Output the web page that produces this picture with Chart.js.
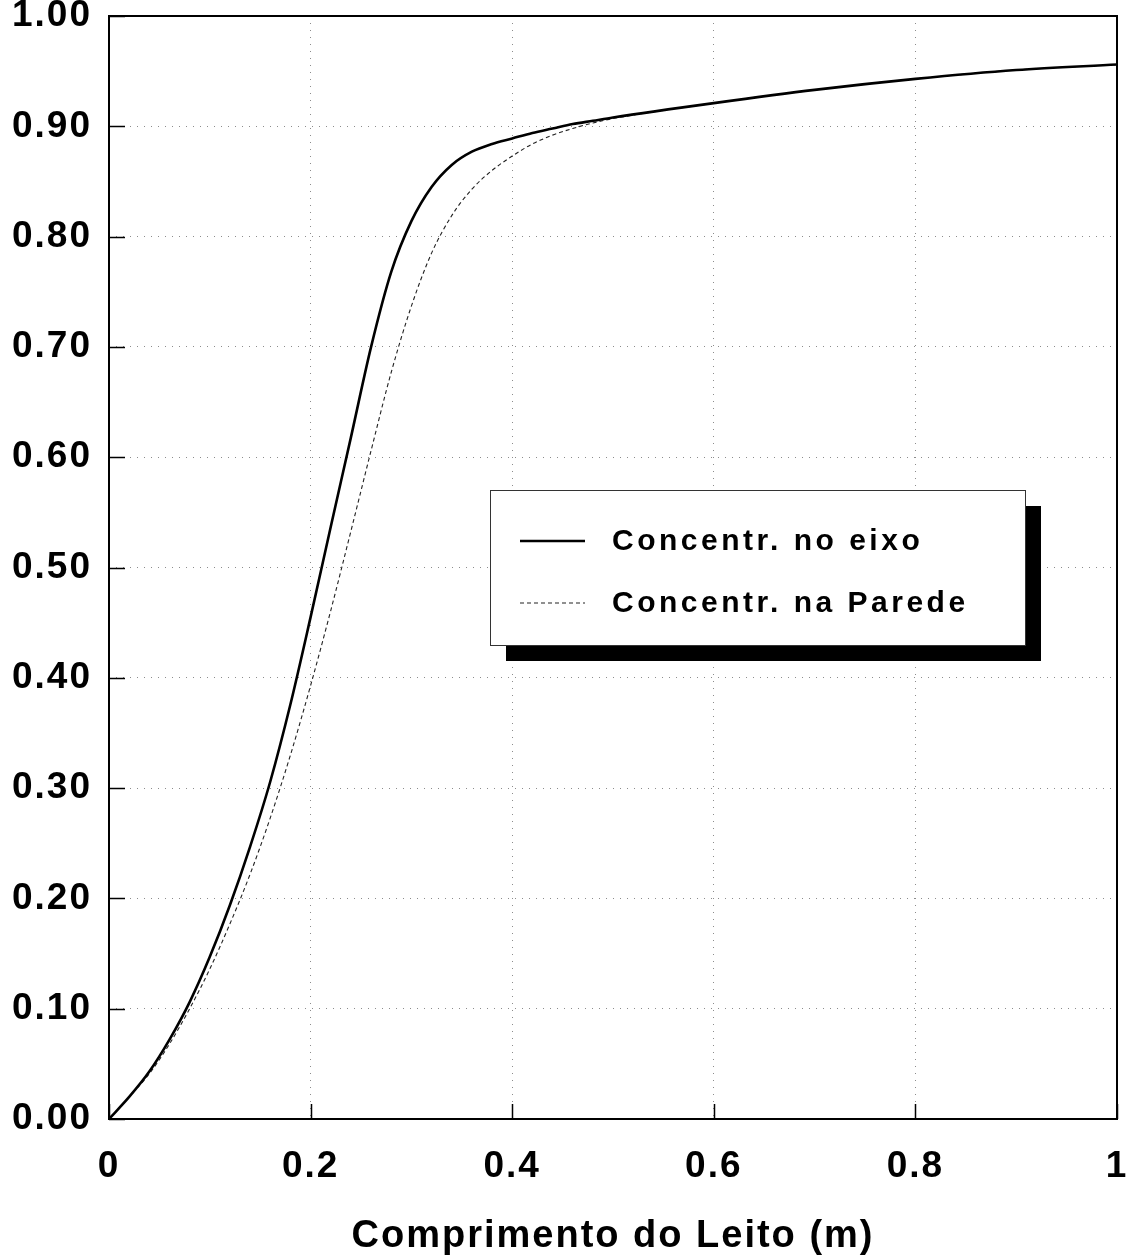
<!DOCTYPE html>
<html><head><meta charset="utf-8">
<script src="https://cdn.jsdelivr.net/npm/chart.js@4"></script>
<style>html,body{margin:0;padding:0;background:#fff}#wrap{width:1130px;height:1260px;position:relative}</style>
</head><body><div id="wrap"><canvas id="c" width="1130" height="1260"></canvas></div>
<script>
// ---- data ----
const xValues = [0, 0.02, 0.04, 0.06, 0.08, 0.10, 0.12, 0.14, 0.16, 0.18, 0.20, 0.22, 0.24, 0.26, 0.28, 0.30, 0.32, 0.34, 0.36, 0.38, 0.40, 0.42, 0.44, 0.46, 0.48, 0.50, 0.60, 0.70, 0.80, 0.90, 1.00];
const concEixo = [0, 0.020, 0.043, 0.072, 0.106, 0.147, 0.194, 0.247, 0.306, 0.376, 0.455, 0.537, 0.618, 0.700, 0.768, 0.814, 0.845, 0.865, 0.877, 0.884, 0.889, 0.894, 0.898, 0.902, 0.905, 0.908, 0.921, 0.933, 0.943, 0.951, 0.956];
const concParede = [0, 0.020, 0.041, 0.068, 0.100, 0.136, 0.177, 0.222, 0.273, 0.330, 0.393, 0.461, 0.533, 0.606, 0.677, 0.737, 0.785, 0.819, 0.843, 0.860, 0.873, 0.884, 0.892, 0.898, 0.903, 0.907, 0.921, 0.933, 0.943, 0.951, 0.956];
const seriesLabels = ['Concentr. no eixo', 'Concentr. na Parede'];
const xTickStep = 0.2;
const yTickStep = 0.1;
const xAxisTitle = 'Comprimento do Leito (m)';

const FONT = '"Liberation Sans", Arial, Helvetica, sans-serif';

const frameAndTicks = {
  id: 'frameAndTicks',
  beforeDraw(chart) { chart.ctx.letterSpacing = '2px'; },
  afterDatasetsDraw(chart) {
    const {ctx, chartArea: a, scales: {x, y}} = chart;
    ctx.save();
    ctx.letterSpacing = '0px';
    ctx.strokeStyle = '#000';
    ctx.setLineDash([]);
    // inward ticks
    ctx.lineWidth = 1.5;
    ctx.beginPath();
    y.ticks.forEach(t => {
      const py = Math.round(y.getPixelForValue(t.value)) + 0.5;
      ctx.moveTo(a.left, py); ctx.lineTo(a.left + 16, py);
    });
    x.ticks.forEach(t => {
      const px = Math.round(x.getPixelForValue(t.value)) + 0.5;
      ctx.moveTo(px, a.bottom); ctx.lineTo(px, a.bottom - 15);
    });
    ctx.stroke();
    // frame
    ctx.lineWidth = 2;
    ctx.strokeRect(a.left, a.top, a.right - a.left, a.bottom - a.top);
    ctx.restore();
  },
  afterDraw(chart) {
    const {ctx} = chart;
    const L = 490, T = 490, W = 535, H = 155, S = 16;
    ctx.save();
    ctx.fillStyle = '#000';
    ctx.fillRect(L + S, T + S, W, H);
    ctx.fillStyle = '#fff';
    ctx.fillRect(L, T, W, H);
    ctx.strokeStyle = '#333';
    ctx.lineWidth = 1;
    ctx.strokeRect(L + 0.5, T + 0.5, W, H);
    const rows = [541, 603];
    chart.data.datasets.forEach((ds, i) => {
      ctx.strokeStyle = ds.borderColor;
      ctx.lineWidth = ds.borderWidth;
      ctx.setLineDash(ds.borderDash || []);
      ctx.beginPath();
      ctx.moveTo(520, rows[i]); ctx.lineTo(585, rows[i]);
      ctx.stroke();
      ctx.setLineDash([]);
      ctx.fillStyle = '#000';
      ctx.letterSpacing = '3.5px';
      ctx.font = 'bold 30px ' + FONT;
      ctx.textBaseline = 'middle';
      ctx.textAlign = 'left';
      ctx.fillText(ds.label, 612, rows[i] + 1);
    });
    ctx.restore();
  }
};

const gridColor = (ctx) => {
  const v = ctx.tick ? ctx.tick.value : null;
  if (v === null) return 'rgba(0,0,0,0)';
  if (Math.abs(v) < 1e-9 || Math.abs(v - 1) < 1e-9) return 'rgba(0,0,0,0)';
  return '#8c8c8c';
};

new Chart(document.getElementById('c'), {
  type: 'line',
  data: {
    datasets: [
      {
        label: seriesLabels[0],
        data: xValues.map((x, i) => ({x, y: concEixo[i]})),
        borderColor: '#000',
        borderWidth: 2.6,
        pointRadius: 0,
        fill: false,
        cubicInterpolationMode: 'monotone'
      },
      {
        label: seriesLabels[1],
        data: xValues.map((x, i) => ({x, y: concParede[i]})),
        borderColor: '#222',
        borderWidth: 1.1,
        borderDash: [4, 3],
        pointRadius: 0,
        fill: false,
        cubicInterpolationMode: 'monotone'
      }
    ]
  },
  options: {
    responsive: false,
    animation: false,
    devicePixelRatio: 1,
    layout: {padding: {top: 16, right: 13, left: 0, bottom: 0}},
    plugins: {legend: {display: false}, tooltip: {enabled: false}},
    scales: {
      x: {
        type: 'linear', min: 0, max: 1,
        ticks: {
          stepSize: xTickStep, autoSkip: false, maxRotation: 0, padding: 26,
          color: '#000', font: {family: FONT, size: 37, weight: 'bold'},
          callback: v => String(+v.toFixed(1))
        },
        grid: {drawTicks: false, color: gridColor, lineWidth: 1},
        border: {display: false, dash: [1, 6]},
        title: {display: true, text: xAxisTitle, color: '#000',
          font: {family: FONT, size: 38, weight: 'bold'}, padding: {top: 0, bottom: 1}},
        afterFit: s => { s.height = 141; s.paddingLeft = 0; s.paddingRight = 0; }
      },
      y: {
        type: 'linear', min: 0, max: 1,
        ticks: {
          stepSize: yTickStep, autoSkip: false, padding: 17,
          color: '#000', font: {family: FONT, size: 37, weight: 'bold'},
          callback: v => v.toFixed(2)
        },
        grid: {drawTicks: false, color: gridColor, lineWidth: 1},
        border: {display: false, dash: [1, 6]},
        afterFit: s => { s.width = 109; s.paddingTop = 0; s.paddingBottom = 0; }
      }
    }
  },
  plugins: [frameAndTicks]
});
</script>
</body></html>
